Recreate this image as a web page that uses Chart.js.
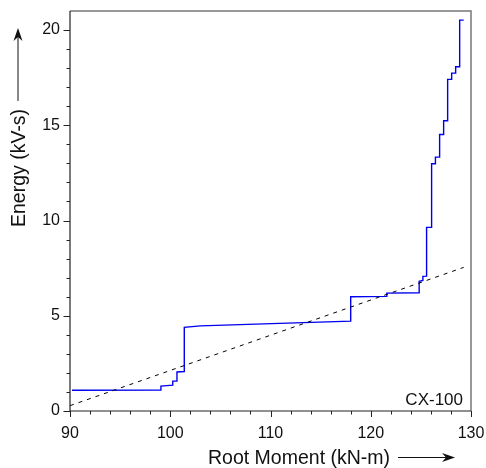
<!DOCTYPE html>
<html><head><meta charset="utf-8">
<script src="https://cdn.jsdelivr.net/npm/chart.js@4"></script>
<style>html,body{margin:0;padding:0;background:#fff;}#wrap{width:486px;height:468px;}</style>
</head><body><div id="wrap"><canvas id="c" width="486" height="468"></canvas></div>
<script>
// Data
const stepX = [90.2, 99.07, 99.07, 100.25, 100.25, 100.67, 100.67, 101.4, 101.4, 103.0, 118.0, 118.0, 121.6, 121.6, 124.83, 124.83, 125.2, 125.2, 125.57, 125.57, 126.07, 126.07, 126.45, 126.45, 126.87, 126.87, 127.27, 127.27, 127.67, 127.67, 128.07, 128.07, 128.47, 128.47, 128.87, 128.87, 129.27];
const stepY = [1.09, 1.10, 1.31, 1.36, 1.57, 1.57, 2.05, 2.07, 4.39, 4.47, 4.72, 6.00, 6.02, 6.19, 6.21, 6.81, 6.85, 7.07, 7.08, 9.64, 9.64, 12.98, 12.98, 13.33, 13.33, 14.52, 14.52, 15.24, 15.24, 17.41, 17.41, 17.74, 17.74, 18.07, 18.07, 20.52, 20.52];
const fitX = [90, 129.27];
const fitY = [0.28, 7.54];
const xTicks = [90, 100, 110, 120, 130];
const yTicks = [0, 5, 10, 15, 20];
const xMinor = [92, 94, 96, 98, 102, 104, 106, 108, 112, 114, 116, 118, 122, 124, 126, 128];
const yMinor = [1,2,3,4,6,7,8,9,11,12,13,14,16,17,18,19];
const xTitle = 'Root Moment (kN-m)';
const yTitle = 'Energy (kV-s)';
const tag = 'CX-100';

const FONT = '"Liberation Sans", Arial, Helvetica, sans-serif';

const decor = {
  id: 'decor',
  afterDraw(chart) {
    const ctx = chart.ctx, a = chart.chartArea;
    const xs = chart.scales.x, ys = chart.scales.y;
    ctx.save();
    // frame top/right
    ctx.strokeStyle = '#777';
    ctx.lineWidth = 1.5;
    ctx.beginPath();
    ctx.moveTo(a.left, a.top); ctx.lineTo(a.right, a.top); ctx.lineTo(a.right, a.bottom);
    ctx.stroke();
    // axes
    ctx.strokeStyle = '#222';
    ctx.lineWidth = 1.2;
    ctx.beginPath();
    ctx.moveTo(a.left, a.top); ctx.lineTo(a.left, a.bottom); ctx.lineTo(a.right, a.bottom);
    ctx.stroke();
    // ticks
    ctx.lineWidth = 1;
    ctx.beginPath();
    xTicks.forEach(v => { const p = Math.round(xs.getPixelForValue(v)) + 0.5; ctx.moveTo(p, a.bottom); ctx.lineTo(p, a.bottom + 6); });
    xMinor.forEach(v => { const p = Math.round(xs.getPixelForValue(v)) + 0.5; ctx.moveTo(p, a.bottom); ctx.lineTo(p, a.bottom + 3.5); });
    yTicks.forEach(v => { const p = Math.round(ys.getPixelForValue(v)) + 0.5; ctx.moveTo(a.left, p); ctx.lineTo(a.left - 6.5, p); });
    yMinor.forEach(v => { const p = Math.round(ys.getPixelForValue(v)) + 0.5; ctx.moveTo(a.left, p); ctx.lineTo(a.left - 3.5, p); });
    ctx.stroke();
    // tag
    ctx.fillStyle = '#111';
    ctx.font = '17px ' + FONT;
    ctx.textAlign = 'right'; ctx.textBaseline = 'alphabetic';
    ctx.fillText(tag, a.right - 8, a.bottom - 6);
    // x title + arrow
    ctx.font = '19.5px ' + FONT;
    ctx.textAlign = 'left';
    const tx = 208, ty = 463.5;
    ctx.fillText(xTitle, tx, ty);
    const w = ctx.measureText(xTitle).width;
    const ay = 457.5;
    const ax0 = tx + w + 8, ax1 = ax0 + 57;
    ctx.strokeStyle = '#111'; ctx.lineWidth = 1;
    ctx.beginPath(); ctx.moveTo(ax0, ay); ctx.lineTo(ax1 - 6, ay); ctx.stroke();
    ctx.beginPath(); ctx.moveTo(ax1, ay); ctx.lineTo(ax1 - 13, ay - 4.5); ctx.lineTo(ax1 - 9, ay); ctx.lineTo(ax1 - 13, ay + 4.5); ctx.closePath(); ctx.fill();
    // y title + arrow
    ctx.save();
    ctx.translate(24.5, 227);
    ctx.rotate(-Math.PI / 2);
    ctx.fillText(yTitle, 0, 0);
    const wy = ctx.measureText(yTitle).width;
    const by0 = wy + 8, by1 = 227 - 28;
    ctx.beginPath(); ctx.moveTo(by0, -6.5); ctx.lineTo(by1 - 6, -6.5); ctx.stroke();
    ctx.beginPath(); ctx.moveTo(by1, -6.5); ctx.lineTo(by1 - 13, -11); ctx.lineTo(by1 - 9, -6.5); ctx.lineTo(by1 - 13, -2); ctx.closePath(); ctx.fill();
    ctx.restore();
    ctx.restore();
  }
};

new Chart(document.getElementById('c'), {
  type: 'scatter',
  data: {
    datasets: [
      { data: fitX.map((x, i) => ({ x, y: fitY[i] })), showLine: true, borderColor: '#000', borderWidth: 1, borderDash: [4, 5], pointRadius: 0, fill: false },
      { data: stepX.map((x, i) => ({ x, y: stepY[i] })), showLine: true, borderColor: '#0000ee', borderWidth: 1.4, pointRadius: 0, fill: false, tension: 0 }
    ]
  },
  options: {
    responsive: false,
    animation: false,
    devicePixelRatio: 1,
    layout: { padding: { top: 11, right: 15, left: 0, bottom: 0 } },
    plugins: { legend: { display: false }, tooltip: { enabled: false } },
    scales: {
      x: {
        type: 'linear', min: 90, max: 130,
        afterBuildTicks: s => { s.ticks = xTicks.map(v => ({ value: v })); },
        afterFit: s => { s.height = 57; s.paddingLeft = 0; s.paddingRight = 0; },
        grid: { display: false, drawTicks: false },
        border: { display: false },
        ticks: { color: '#111', font: { size: 16, family: FONT }, padding: 13, maxRotation: 0 }
      },
      y: {
        type: 'linear', min: 0, max: 21,
        afterBuildTicks: s => { s.ticks = yTicks.map(v => ({ value: v })); },
        afterFit: s => { s.width = 70; s.paddingTop = 0; s.paddingBottom = 0; },
        grid: { display: false, drawTicks: false },
        border: { display: false },
        ticks: { color: '#111', font: { size: 16, family: FONT }, padding: 10 }
      }
    }
  },
  plugins: [decor]
});
</script></body></html>
